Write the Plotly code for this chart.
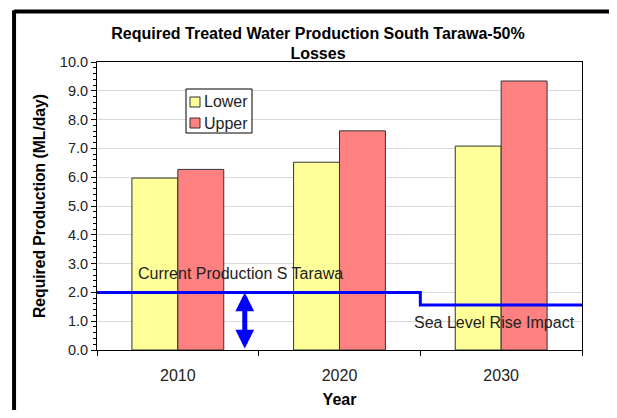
import plotly.graph_objects as go

years = ["2010", "2020", "2030"]
series_names = ["Lower", "Upper"]
lower = [5.97, 6.52, 7.08]
upper = [6.27, 7.61, 9.34]
prod_x = [-0.5, 1.5, 1.5, 2.5]
prod_y = [2.0, 2.0, 1.56, 1.56]
arrow_x = 0.414
arrow_top = 2.0
colors = ["#FFFF99", "#FF8080"]

xpos = list(range(len(years)))
FONT = "Liberation Sans, Arial"

fig = go.Figure()
for name, vals, col in zip(series_names, [lower, upper], colors):
    fig.add_trace(go.Bar(x=xpos, y=vals, name=name, showlegend=False,
                         marker=dict(color=col, line=dict(color="#333333", width=1))))
fig.add_trace(go.Scatter(x=prod_x, y=prod_y, mode="lines", showlegend=False,
                         line=dict(color="#0000FF", width=3), hoverinfo="skip"))

fig.add_annotation(x=arrow_x, y=arrow_top, ax=arrow_x, ay=0, xref="x", yref="y",
                   axref="x", ayref="y", text="", showarrow=True,
                   arrowside="end+start", arrowhead=2, arrowwidth=5,
                   arrowsize=0.75, arrowcolor="#0000FF")
fig.add_annotation(x=-0.259, y=2.64, xref="x", yref="y", text="Current Production S Tarawa",
                   showarrow=False, xanchor="left", yanchor="middle",
                   font=dict(family=FONT, size=16, color="#222222"))
fig.add_annotation(x=2.47, y=0.97, xref="x", yref="y", text="Sea Level Rise Impact",
                   showarrow=False, xanchor="right", yanchor="middle",
                   font=dict(family=FONT, size=16, color="#222222"))

# custom compact legend (pixel -> paper conversions for a 485x288 plot area)
def px(xp):
    return (xp - 97) / 485.0

def py(yp):
    return 1 - (yp - 62) / 288.0

fig.add_shape(type="rect", xref="paper", yref="paper", x0=px(186), x1=px(252),
              y0=py(133), y1=py(89), line=dict(color="black", width=1), fillcolor="white",
              layer="above")
for i, (name, col) in enumerate(zip(series_names, colors)):
    cy = 102 + i * 21
    fig.add_shape(type="rect", xref="paper", yref="paper", x0=px(190), x1=px(200),
                  y0=py(cy + 5), y1=py(cy - 5), line=dict(color="#333333", width=1),
                  fillcolor=col, layer="above")
    fig.add_annotation(x=px(202), y=py(cy), xref="paper", yref="paper", text=name,
                       showarrow=False, xanchor="left", yanchor="middle",
                       font=dict(family=FONT, size=16, color="#222222"))

# outer chart border (left and top)
fig.add_shape(type="line", xref="paper", yref="paper", x0=-0.171, x1=-0.171,
              y0=-0.3, y1=1.18, line=dict(color="black", width=4))
fig.add_shape(type="line", xref="paper", yref="paper", x0=-0.171, x1=1.1,
              y0=1.175, y1=1.175, line=dict(color="black", width=4))

fig.update_layout(
    width=609, height=402,
    margin=dict(l=89, r=35, t=54, b=60, autoexpand=False),
    paper_bgcolor="white", plot_bgcolor="white",
    barmode="group", bargap=0.432, bargroupgap=0,
    font=dict(family=FONT, size=14, color="#222222"),
    title=dict(text="<b>Required Treated Water Production South Tarawa-50%<br>Losses</b>",
               x=0.509, xanchor="center", y=0.924, yanchor="top",
               font=dict(size=16, color="black")),
    showlegend=False,
)
fig.update_xaxes(
    range=[-0.5, 2.5], tickvals=xpos, ticktext=years, ticks="",
    ticklabelstandoff=11,
    showline=True, linecolor="black", linewidth=1, mirror=True,
    showgrid=False, zeroline=False,
    minor=dict(tickvals=[-0.5, 0.5, 1.5, 2.5], ticks="outside", ticklen=5,
               tickcolor="black", showgrid=False),
    title=dict(text="<b>Year</b>", font=dict(size=16, color="black"), standoff=10),
    tickfont=dict(size=16, color="#222222"),
)
fig.update_yaxes(
    range=[0, 10], dtick=1, tickformat=".1f", ticks="outside", ticklen=5,
    tickcolor="black", showline=True, linecolor="black", linewidth=1, mirror=True,
    showgrid=True, gridcolor="#D9D9D9", gridwidth=1, zeroline=False,
    minor=dict(dtick=0.2, ticks="outside", ticklen=3, tickcolor="black", showgrid=False),
    title=dict(text="<b>Required Production (ML/day)</b>", font=dict(size=15.7, color="black"),
               standoff=10),
    tickfont=dict(size=14.5, color="#222222"),
)

fig.write_html("out.html")
